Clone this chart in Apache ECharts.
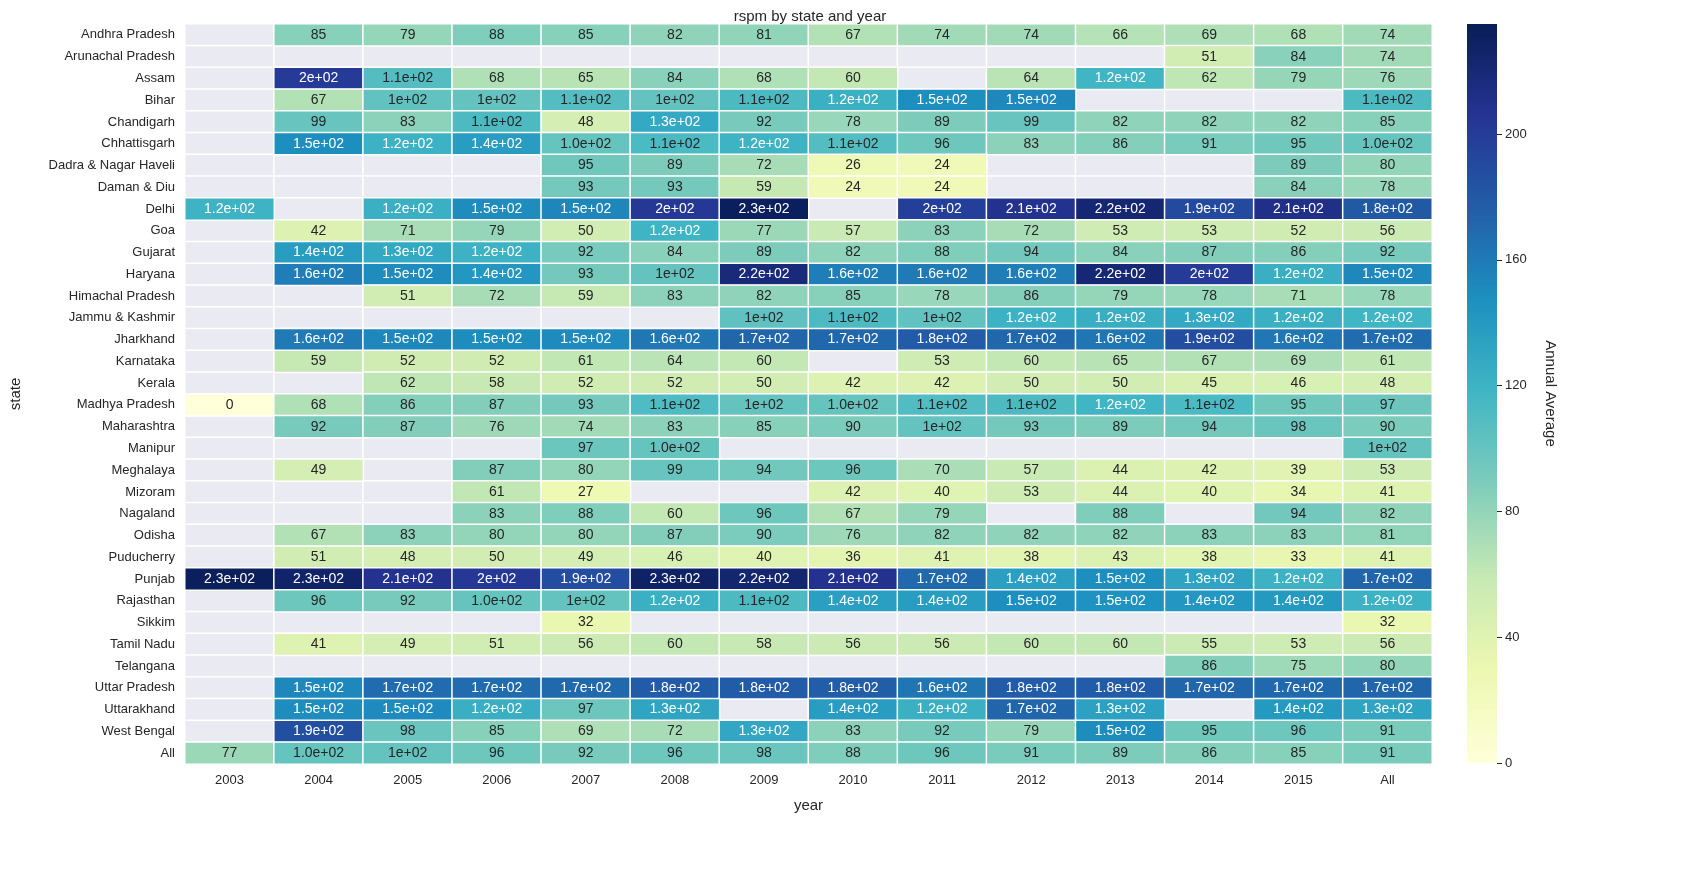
<!DOCTYPE html>
<html><head><meta charset="utf-8">
<script src="https://cdn.jsdelivr.net/npm/echarts@6/dist/echarts.min.js"></script>
<style>html,body{margin:0;padding:0;background:#fff}#c{width:1688px;height:873px}</style>
</head><body><div id="c"></div>
<script>
const years = ['2003','2004','2005','2006','2007','2008','2009','2010','2011','2012','2013','2014','2015','All'];
const states = ['Andhra Pradesh','Arunachal Pradesh','Assam','Bihar','Chandigarh','Chhattisgarh','Dadra & Nagar Haveli','Daman & Diu','Delhi','Goa','Gujarat','Haryana','Himachal Pradesh','Jammu & Kashmir','Jharkhand','Karnataka','Kerala','Madhya Pradesh','Maharashtra','Manipur','Meghalaya','Mizoram','Nagaland','Odisha','Puducherry','Punjab','Rajasthan','Sikkim','Tamil Nadu','Telangana','Uttar Pradesh','Uttarakhand','West Bengal','All'];
const _ = null;
const values = [
[_,85,79,88,85,82,81,67,74,74,66,69,68,74],
[_,_,_,_,_,_,_,_,_,_,_,51,84,74],
[_,201,108,68,65,84,68,60,_,64,118,62,79,76],
[_,67,102,101,108,101,112,122,148,152,_,_,_,112],
[_,99,83,112,48,128,92,78,89,99,82,82,82,85],
[_,148,121,138,99.8,113,120,109,96,83,86,91,95,99.8],
[_,_,_,_,95,89,72,26,24,_,_,_,89,80],
[_,_,_,_,93,93,59,24,24,_,_,_,84,78],
[120,_,122,150,153,203,232,_,198,208,222,190,211,180],
[_,42,71,79,50,119,77,57,83,72,53,53,52,56],
[_,138,128,121,92,84,89,82,88,94,84,87,86,92],
[_,158,150,142,93,101,218,158,160,158,221,201,123,152],
[_,_,51,72,59,83,82,85,78,86,79,78,71,78],
[_,_,_,_,_,_,103,112,102,121,124,128,122,118],
[_,160,152,149,151,162,172,171,178,171,163,188,162,168],
[_,59,52,52,61,64,60,_,53,60,65,67,69,61],
[_,_,62,58,52,52,50,42,42,50,50,45,46,48],
[0,68,86,87,93,111,101,99.8,110,112,118,113,95,97],
[_,92,87,76,74,83,85,90,101,93,89,94,98,90],
[_,_,_,_,97,99.8,_,_,_,_,_,_,_,101],
[_,49,_,87,80,99,94,96,70,57,44,42,39,53],
[_,_,_,61,27,_,_,42,40,53,44,40,34,41],
[_,_,_,83,88,60,96,67,79,_,88,_,94,82],
[_,67,83,80,80,87,90,76,82,82,82,83,83,81],
[_,51,48,50,49,46,40,36,41,38,43,38,33,41],
[233,226,208,203,188,228,224,208,170,136,148,132,121,172],
[_,96,92,99.8,101,122,112,136,138,148,146,142,140,121],
[_,_,_,_,32,_,_,_,_,_,_,_,_,32],
[_,41,49,51,56,60,58,56,56,60,60,55,53,56],
[_,_,_,_,_,_,_,_,_,_,_,86,75,80],
[_,152,168,168,170,178,178,176,163,178,178,172,170,172],
[_,150,151,123,97,131,_,138,122,172,134,_,140,132],
[_,187,98,85,69,72,130,83,92,79,149,95,96,91],
[77,99.8,101,96,92,96,98,88,96,91,89,86,85,91]
];
const vmax = 235;
const cmap = ['#ffffd9','#edf8b1','#c7e9b4','#7fcdbb','#41b6c4','#1d91c0','#225ea8','#253494','#081d58'];
function fmt(v){
  if (v < 99.5) return String(Math.round(v));
  if (v < 100) return '1.0e+02';
  let s = v.toPrecision(2); // e.g. "1.2e+2" or "2.0e+2"
  if (s.indexOf('e') < 0) s = Number(s).toExponential(1);
  let [m,e] = s.split('e');
  if (m.endsWith('.0')) m = m.slice(0,-2);
  return m + 'e+0' + e.replace('+','');
}
const data = [], bg = [];
states.forEach((st, r) => years.forEach((y, c) => {
  const v = values[r][c];
  bg.push([c, r, 1]);
  if (v !== null) data.push({value:[c, r, v], label:{color: v > 115 ? '#ffffff' : '#262626'}});
}));
const font = 'Liberation Sans, Arial, sans-serif';
const chart = echarts.init(document.getElementById('c'));
chart.setOption({
  animation:false,
  textStyle:{fontFamily:font},
  title:{text:'rspm by state and year', left:805, top:4, textAlign:'center', textStyle:{fontSize:15, fontWeight:'normal', color:'#262626', fontFamily:font}},
  grid:[
    {left:178, right:256, top:24, bottom:109},
    {left:1467, width:30, top:24, bottom:110}
  ],
  xAxis:[
    {type:'category', data:years, gridIndex:0, axisLine:{show:false}, axisTick:{show:false}, splitLine:{show:false},
     axisLabel:{color:'#262626', fontSize:13, margin:10}, name:'year', nameLocation:'middle', nameGap:34, nameTextStyle:{fontSize:15, color:'#262626'}},
    {type:'category', data:['c'], gridIndex:1, show:false}
  ],
  yAxis:[
    {type:'category', data:states, inverse:true, gridIndex:0, axisLine:{show:false}, axisTick:{show:false},
     axisLabel:{color:'#262626', fontSize:13, margin:10}, name:'state', nameLocation:'middle', nameGap:162, nameRotate:90, nameTextStyle:{fontSize:15, color:'#262626'}},
    {type:'value', gridIndex:1, min:0, max:vmax, interval:40, position:'right', axisLine:{show:false}, axisTick:{show:true, length:5, lineStyle:{color:'#262626'}}, splitLine:{show:false},
     axisLabel:{color:'#262626', fontSize:13, margin:8, showMaxLabel:false}, name:'Annual Average', nameLocation:'middle', nameGap:46, nameRotate:-90, nameTextStyle:{fontSize:15, color:'#262626'}}
  ],
  visualMap:{show:false, min:0, max:vmax, seriesIndex:1, dimension:2, inRange:{color:cmap}},
  series:[
    {type:'heatmap', xAxisIndex:0, yAxisIndex:0, data:bg, itemStyle:{color:'#eaeaf2', borderColor:'#ffffff', borderWidth:1.5}, label:{show:false}, silent:true},
    {type:'heatmap', xAxisIndex:0, yAxisIndex:0, data:data, itemStyle:{borderColor:'#ffffff', borderWidth:1.5},
     label:{show:true, fontSize:14, fontFamily:font, formatter:p => fmt(p.value[2])}},
    {type:'bar', xAxisIndex:1, yAxisIndex:1, data:[vmax], barWidth:30, silent:true,
     itemStyle:{color:new echarts.graphic.LinearGradient(0,1,0,0, cmap.map((c,i)=>({offset:i/(cmap.length-1), color:c})))}}
  ]
});
</script></body></html>
